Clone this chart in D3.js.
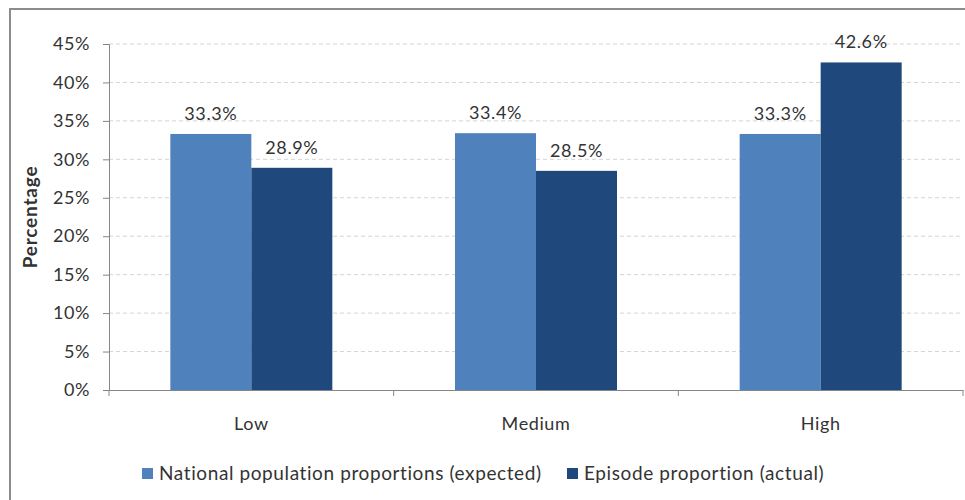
<meta charset="utf-8">
<html>
<head>
    <script src="https://d3js.org/d3.v7.min.js"></script>
    <style>
        body { margin: 0; background: #fff; }
        text { font-family: Lato, "Open Sans", sans-serif; fill: #333; }
    </style>
</head>
<body>
    <div id="chart"></div>
    <script>
        // chart data
        const categories = ["Low", "Medium", "High"];
        const seriesNames = ["National population proportions (expected)", "Episode proportion (actual)"];
        const expected = [33.3, 33.4, 33.3];
        const actual = [28.9, 28.5, 42.6];
        const yTicks = [0, 5, 10, 15, 20, 25, 30, 35, 40, 45];

        const colors = ["#4F81BD", "#1F497D"];
        const W = 965, H = 500;
        const plot = { left: 109, right: 963, top: 44, bottom: 390 };

        const svg = d3.select("#chart").append("svg")
            .attr("width", W).attr("height", H);

        // outer chart frame
        svg.append("rect")
            .attr("x", 10).attr("y", 9)
            .attr("width", W).attr("height", H)
            .attr("fill", "none").attr("stroke", "#8c8c8c").attr("stroke-width", 2);

        const y = d3.scaleLinear().domain([0, 45]).range([plot.bottom, plot.top]);
        const x0 = d3.scaleBand().domain(categories).range([plot.left, plot.right]);
        const groupW = 162;
        const x1 = d3.scaleBand().domain([0, 1])
            .range([(x0.bandwidth() - groupW) / 2, (x0.bandwidth() + groupW) / 2]);

        // gridlines
        svg.append("g").selectAll("line").data(yTicks.filter(d => d > 0)).enter().append("line")
            .attr("x1", plot.left).attr("x2", plot.right)
            .attr("y1", d => y(d)).attr("y2", d => y(d))
            .attr("stroke", "#d4d4d4").attr("stroke-dasharray", "4,3");

        // y axis
        const yAxis = svg.append("g")
            .attr("transform", `translate(${plot.left},0)`)
            .call(d3.axisLeft(y).tickValues(yTicks).tickFormat(d => d + "%").tickSize(6).tickPadding(13));
        yAxis.selectAll("path, line").attr("stroke", "#868686");
        yAxis.selectAll("text").style("font-size", "18px").style("letter-spacing", "0.6px").attr("fill", "#333");

        // x axis
        const xAxis = svg.append("g")
            .attr("transform", `translate(0,${plot.bottom})`)
            .call(d3.axisBottom(x0).tickSize(0).tickPadding(27));
        xAxis.select(".domain").attr("stroke", "#868686");
        xAxis.selectAll("text").style("font-size", "18px").style("letter-spacing", "0.6px").attr("fill", "#333");
        // category separators
        svg.append("g").selectAll("line").data(categories).enter().append("line")
            .attr("x1", d => x0(d) + x0.bandwidth()).attr("x2", d => x0(d) + x0.bandwidth())
            .attr("y1", plot.bottom).attr("y2", plot.bottom + 6)
            .attr("stroke", "#868686");
        svg.append("line")
            .attr("x1", plot.left).attr("x2", plot.left)
            .attr("y1", plot.bottom).attr("y2", plot.bottom + 6)
            .attr("stroke", "#868686");

        // bars
        const rows = categories.map((c, i) => ({ cat: c, vals: [expected[i], actual[i]] }));
        const groups = svg.append("g").selectAll("g").data(rows).enter().append("g")
            .attr("transform", d => `translate(${x0(d.cat)},0)`);
        groups.selectAll("rect").data(d => d.vals).enter().append("rect")
            .attr("x", (d, i) => x1(i))
            .attr("width", x1.bandwidth())
            .attr("y", d => y(d))
            .attr("height", d => y(0) - y(d))
            .attr("fill", (d, i) => colors[i]);
        groups.selectAll("text").data(d => d.vals).enter().append("text")
            .attr("x", (d, i) => x1(i) + x1.bandwidth() / 2)
            .attr("y", d => y(d) - 14)
            .attr("text-anchor", "middle")
            .style("font-size", "18px").style("letter-spacing", "0.6px")
            .text(d => d.toFixed(1) + "%");

        // y axis title
        svg.append("text")
            .attr("transform", `translate(37,${(plot.top + plot.bottom) / 2}) rotate(-90)`)
            .attr("text-anchor", "middle")
            .style("font-size", "19px").style("font-weight", "bold").style("letter-spacing", "0.8px")
            .attr("fill", "#000")
            .text("Percentage");

        // legend
        const legendX = [142, 567];
        const legend = svg.append("g").selectAll("g").data(seriesNames).enter().append("g")
            .attr("transform", (d, i) => `translate(${legendX[i]},468)`);
        legend.append("rect").attr("width", 11).attr("height", 11).attr("fill", (d, i) => colors[i]);
        legend.append("text")
            .attr("x", 17).attr("y", 12)
            .style("font-size", "19px").style("letter-spacing", "0.6px")
            .text(d => d);
    </script>
</body>
</html>
